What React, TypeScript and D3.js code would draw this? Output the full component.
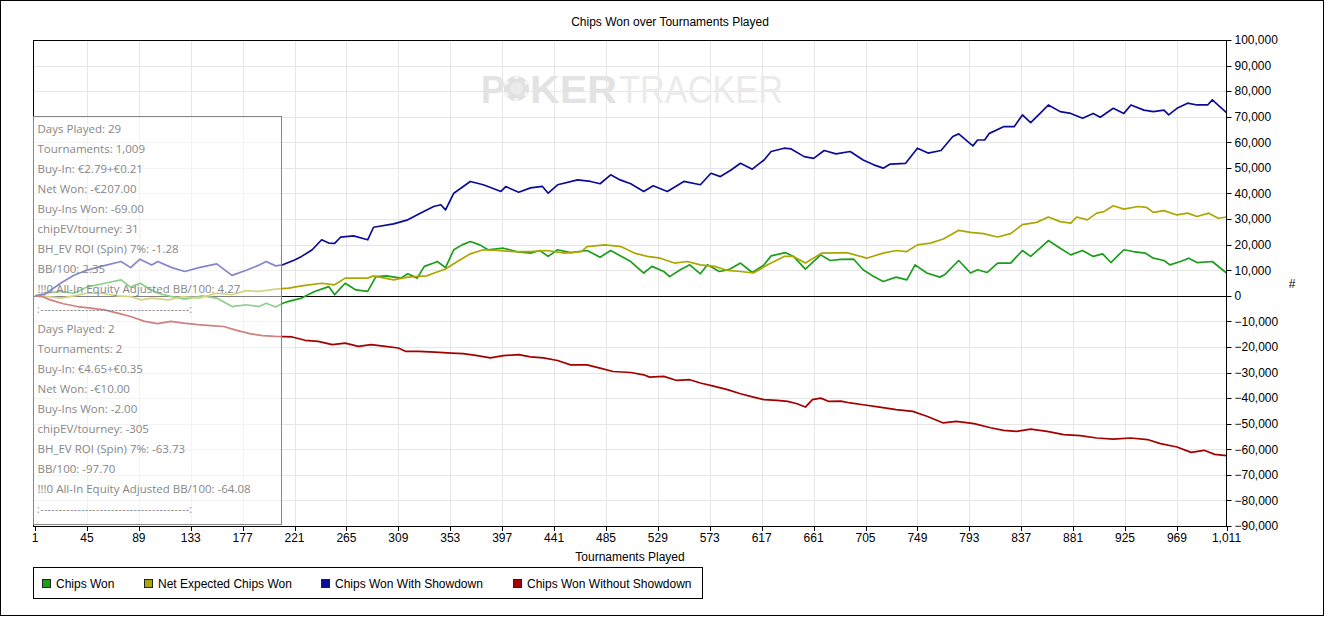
import React from 'react';
import * as d3 from 'd3';

// ---------- data ----------
const chartTitle = 'Chips Won over Tournaments Played';
const xAxisTitle = 'Tournaments Played';
const yAxisTitle = '#';

const tournamentTicks = [1, 45, 89, 133, 177, 221, 265, 309, 353, 397, 441, 485, 529, 573, 617, 661, 705, 749, 793, 837, 881, 925, 969, 1011];
const chipTicks = [100000, 90000, 80000, 70000, 60000, 50000, 40000, 30000, 20000, 10000, 0, -10000, -20000, -30000, -40000, -50000, -60000, -70000, -80000, -90000];

// [tournament, chips in thousands]
const chipsWon: [number, number][] = [
  [1, 0], [9, 1], [23, 1.7], [34, 1], [45, 3.4], [58, 4.7], [74, 6.2], [82, 3.4], [90, 4.9], [105, 1], [117, -0.3], [128, -1.3], [143, 0], [155, -0.9], [168, -4.2], [180, -3.5], [191, -4.2], [197, -2.9], [205, -4.4], [211, -2.9], [216, -2.2], [227, -0.9], [238, 1.7], [250, 3.6], [255, 0.4], [260, 3], [264, 4.9], [273, 2.3], [283, 1.7], [290, 7.5], [299, 7.8], [311, 6.9], [317, 8.6], [325, 6.9], [331, 11.5], [339, 12.8], [342, 13.4], [349, 11], [356, 18], [363, 19.9], [370, 21.2], [378, 19.9], [385, 18], [398, 18.6], [409, 17.3], [421, 16.7], [429, 17.7], [436, 15.4], [444, 18], [455, 16.9], [469, 17.7], [480, 15.1], [489, 17.7], [506, 13.4], [517, 8.9], [524, 11.5], [534, 9.5], [539, 7.5], [548, 10.2], [556, 12.1], [565, 8.6], [571, 12.1], [581, 9.5], [589, 10.2], [599, 12.8], [609, 9.1], [619, 12.1], [625, 15.6], [637, 16.9], [644, 15.4], [654, 10.4], [667, 16], [675, 13.8], [684, 14.2], [695, 14.3], [703, 10.2], [712, 7.5], [720, 5.6], [731, 7.3], [740, 6.2], [747, 12.1], [757, 8.9], [768, 7.3], [772, 8.2], [784, 13.8], [794, 8.9], [800, 10.2], [808, 9.1], [817, 12.8], [828, 12.8], [838, 17.7], [845, 15.4], [853, 18.6], [860, 21.6], [870, 18.6], [879, 16], [889, 17.7], [898, 15.4], [906, 16.4], [913, 13], [924, 18], [932, 17.3], [942, 16.7], [949, 14.7], [958, 13.8], [963, 12.1], [972, 13.4], [979, 14.7], [986, 13], [999, 13.4], [1011, 8.9],
];

const netExpectedChipsWon: [number, number][] = [
  [1, 0], [12, -0.3], [23, -0.9], [34, 0], [45, 1], [57, 1], [71, 0], [82, -0.3], [91, -1.6], [100, -0.9], [114, -1.6], [126, -0.3], [140, -0.9], [155, 1], [168, 0.4], [180, 2], [191, 1.7], [205, 2.6], [216, 3], [227, 3.9], [244, 4.9], [255, 4.3], [264, 6.9], [283, 6.9], [288, 7.8], [305, 6.2], [317, 7.3], [333, 7.8], [340, 9], [349, 10.5], [359, 13.4], [370, 16.4], [381, 18], [393, 17.7], [407, 17.3], [421, 17.3], [435, 17.7], [450, 16.7], [464, 17.3], [469, 19.2], [484, 19.9], [498, 19.2], [509, 16.7], [520, 15.4], [531, 14.7], [543, 12.8], [554, 13.4], [565, 12.1], [577, 11.5], [588, 9.9], [599, 9.5], [610, 8.9], [622, 12.1], [636, 15.4], [644, 15.4], [654, 12.8], [668, 16.7], [680, 16.8], [689, 16.9], [706, 14.7], [720, 16.7], [731, 17.7], [740, 17.3], [749, 19.9], [760, 20.6], [771, 22.2], [784, 25.6], [794, 24.8], [805, 24.3], [817, 23], [828, 24.3], [838, 27.8], [850, 28.7], [860, 30.8], [870, 29], [879, 28.4], [884, 30.8], [893, 29.7], [901, 32.3], [907, 32.9], [915, 35.2], [924, 33.9], [936, 34.9], [943, 34.6], [949, 32.6], [958, 33.3], [969, 31.6], [978, 32.3], [986, 31], [996, 32.3], [1004, 30.3], [1011, 30.8],
];

const chipsWonWithShowdown: [number, number][] = [
  [1, 0], [9, 0.5], [23, 5], [34, 8], [45, 10], [57, 11.5], [74, 13.4], [82, 11], [90, 14.3], [100, 12], [105, 13.4], [117, 11], [128, 9.5], [140, 11], [155, 12.5], [168, 8], [180, 10], [191, 12], [197, 13.4], [205, 11.7], [211, 12.1], [221, 14], [227, 15.4], [236, 18], [244, 21.9], [250, 20.6], [255, 20.5], [260, 22.9], [271, 23.4], [283, 21.9], [288, 26.8], [305, 28.1], [317, 29.7], [328, 32.4], [339, 34.9], [345, 35.6], [349, 33.6], [356, 40.1], [364, 42.7], [370, 44.7], [381, 43.4], [396, 40.8], [400, 42.7], [411, 40.5], [421, 42.2], [431, 42.8], [436, 40.1], [444, 43.4], [461, 45.3], [472, 44.7], [480, 43.8], [489, 47.3], [497, 45.3], [506, 43.8], [517, 40.8], [525, 43], [537, 40.8], [551, 44.7], [565, 43.4], [574, 47.9], [582, 46.6], [591, 49.2], [599, 51.8], [609, 49.5], [619, 53.1], [625, 56.4], [636, 57.7], [642, 57.4], [653, 54.4], [661, 53.7], [670, 56.8], [680, 55.5], [692, 56.4], [703, 53.1], [712, 51.2], [720, 49.9], [726, 51.5], [739, 51.8], [749, 57.7], [758, 55.8], [769, 56.8], [779, 62.3], [784, 63.3], [796, 58.6], [800, 60.9], [806, 60.9], [810, 63.5], [822, 66.1], [831, 66.1], [838, 70.7], [845, 67.7], [853, 71.3], [860, 74.6], [870, 72], [879, 71.3], [889, 69.4], [898, 71.3], [904, 69.8], [915, 73.3], [924, 71.3], [930, 74.6], [941, 72.6], [949, 72], [958, 72.6], [962, 70.7], [969, 73.3], [978, 75.3], [986, 74.6], [995, 74.6], [999, 76.6], [1011, 71.6],
];

const chipsWonWithoutShowdown: [number, number][] = [
  [1, 0], [7, -0.3], [14, -1.6], [25, -3.1], [37, -4.2], [48, -4.8], [60, -5.5], [71, -6.8], [82, -8.1], [94, -10], [105, -10.9], [116, -10], [127, -10.7], [139, -11.3], [150, -11.7], [161, -12], [172, -13.5], [183, -14.8], [194, -15.6], [205, -15.9], [219, -16.1], [230, -17.4], [241, -17.8], [253, -19.1], [264, -18.5], [275, -19.8], [286, -19.1], [298, -19.8], [309, -20.4], [315, -21.7], [326, -21.7], [340, -22], [354, -22.4], [364, -22.6], [376, -23.4], [387, -24.3], [398, -23.4], [411, -23], [421, -23.9], [432, -24.3], [444, -25.3], [455, -27], [469, -27], [480, -28.3], [491, -29.6], [506, -30], [517, -30.9], [522, -31.8], [534, -31.5], [545, -33.1], [556, -32.8], [565, -34.1], [577, -35.4], [588, -36.7], [599, -38.3], [610, -39.6], [619, -40.6], [630, -40.9], [639, -41.3], [647, -42.2], [654, -43.5], [660, -40.6], [667, -40], [674, -41.3], [684, -41.2], [692, -41.9], [703, -42.6], [717, -43.5], [731, -44.5], [745, -45.2], [757, -47.1], [771, -49.7], [782, -49.1], [797, -50], [811, -51.6], [822, -52.6], [833, -53], [845, -52.1], [859, -53], [873, -54.3], [887, -54.7], [901, -55.6], [915, -56], [930, -55.6], [944, -56.2], [955, -57.8], [969, -59.1], [981, -61.2], [992, -60.4], [1001, -62], [1011, -62.5],
];

const seriesNames = ['Chips Won', 'Net Expected Chips Won', 'Chips Won With Showdown', 'Chips Won Without Showdown'];
const seriesColors = ['#1c9e1c', '#aca600', '#0c0c98', '#a30000'];
const seriesData = [chipsWon, netExpectedChipsWon, chipsWonWithShowdown, chipsWonWithoutShowdown];

const statsBlockA = [
  'Days Played: 29',
  'Tournaments: 1,009',
  'Buy-In: €2.79+€0.21',
  'Net Won: -€207.00',
  'Buy-Ins Won: -69.00',
  'chipEV/tourney: 31',
  'BH_EV ROI (Spin) 7%: -1.28',
  'BB/100: 2.35',
  '!!!0 All-In Equity Adjusted BB/100: 4.27',
];
const statsBlockB = [
  'Days Played: 2',
  'Tournaments: 2',
  'Buy-In: €4.65+€0.35',
  'Net Won: -€10.00',
  'Buy-Ins Won: -2.00',
  'chipEV/tourney: -305',
  'BH_EV ROI (Spin) 7%: -63.73',
  'BB/100: -97.70',
  '!!!0 All-In Equity Adjusted BB/100: -64.08',
];

// ---------- layout ----------
const W = 1325;
const H = 617;
const P = { left: 33, right: 1226.5, top: 40, bottom: 526 };
const axisFont = '"Liberation Sans", Arial, sans-serif';
const statsFont = '"Open Sans", "Noto Sans", sans-serif';
const legendX = [42, 144, 321, 513];

export default function App() {
  const x = d3.scaleLinear().domain([1, 1011]).range([35, P.right]);
  const y = d3.scaleLinear().domain([-90000, 100000]).range([P.bottom, P.top]);
  const fmt = d3.format(',');
  const line = d3
    .line<[number, number]>()
    .x((d) => x(d[0]))
    .y((d) => y(d[1] * 1000));

  const sep = ':' + '-'.repeat(40) + ':';

  const statsBlock = (lines: string[], startY: number, sepY: number, key: string) => (
    <g key={key} fontFamily={statsFont} fontSize={11.5} fill="#878787">
      {lines.map((t, i) => (
        <text key={i} x={37.5} y={startY + i * 20}>
          {t}
        </text>
      ))}
      <text x={37} y={sepY} textLength={155} lengthAdjust="spacing" fontSize={10}>
        {sep}
      </text>
    </g>
  );

  return (
    <svg
      width={W}
      height={H}
      style={{ position: 'absolute', left: 0, top: 0, background: '#fff' }}
      shapeRendering="auto"
    >
      <defs>
        <clipPath id="plotClip">
          <rect x={P.left} y={P.top} width={P.right - P.left} height={P.bottom - P.top} />
        </clipPath>
      </defs>
      <rect x={0.5} y={0.5} width={W - 2} height={H - 2} fill="#fff" stroke="#000" strokeWidth={1} />

      {/* title */}
      <text x={670} y={26} textAnchor="middle" fontFamily={axisFont} fontSize={12} fill="#000">
        {chartTitle}
      </text>

      {/* grid */}
      <g stroke="#e6e6e6" strokeWidth={1}>
        {tournamentTicks.slice(1, -1).map((t) => (
          <line key={'gx' + t} x1={Math.round(x(t)) + 0.5} x2={Math.round(x(t)) + 0.5} y1={P.top} y2={P.bottom} />
        ))}
        {chipTicks
          .filter((v) => v !== 0 && v !== 100000 && v !== -90000)
          .map((v) => (
            <line key={'gy' + v} x1={P.left} x2={P.right} y1={Math.round(y(v)) + 0.5} y2={Math.round(y(v)) + 0.5} />
          ))}
      </g>

      {/* watermark */}
      <g fill="#e3e3e3">
        <text x={481} y={103} fontFamily={axisFont} fontWeight="bold" fontSize={39} textLength={24} lengthAdjust="spacingAndGlyphs">
          P
        </text>
        <circle cx={516.5} cy={88.5} r={12.5} fill="#e1e1e1" />
        {[0, 60, 120, 180, 240, 300].map((a) => (
          <rect
            key={a}
            x={514.5}
            y={75}
            width={4}
            height={4}
            fill="#f4f4f4"
            transform={`rotate(${a} 516.5 88.5)`}
          />
        ))}
        <circle cx={516.5} cy={88.5} r={6.5} fill="#ebebeb" />
        <text x={530} y={103} fontFamily={axisFont} fontWeight="bold" fontSize={39} textLength={87} lengthAdjust="spacingAndGlyphs">
          KER
        </text>
        <text x={619} y={103} fontFamily={axisFont} fontSize={39} fill="#ebebeb" textLength={164} lengthAdjust="spacingAndGlyphs">
          TRACKER
        </text>
      </g>

      {/* zero line */}
      <line x1={P.left} x2={P.right} y1={Math.round(y(0)) + 0.5} y2={Math.round(y(0)) + 0.5} stroke="#000" strokeWidth={1} />

      {/* series */}
      <g clipPath="url(#plotClip)" fill="none" strokeWidth={1.7} strokeLinejoin="round">
        {seriesData.map((d, i) => (
          <path key={i} d={line(d) || ''} stroke={seriesColors[i]} />
        ))}
      </g>

      {/* frame */}
      <g stroke="#000" strokeWidth={1} fill="none">
        <line x1={P.left} x2={P.right} y1={P.top + 0.5} y2={P.top + 0.5} />
        <line x1={P.left + 0.5} x2={P.left + 0.5} y1={P.top} y2={P.bottom} />
        <line x1={P.left} x2={P.right + 0.5} y1={P.bottom + 0.5} y2={P.bottom + 0.5} />
        <line x1={P.right} x2={P.right} y1={P.top} y2={P.bottom + 1} />
      </g>

      {/* stats overlay */}
      <rect x={33.5} y={116.5} width={248} height={408} fill="#ffffff" fillOpacity={0.5} stroke="#858585" strokeWidth={1} />
      {statsBlock(statsBlockA, 133, 313, 'a')}
      {statsBlock(statsBlockB, 333, 513, 'b')}

      {/* y axis (right) */}
      <g fontFamily={axisFont} fontSize={12} fill="#000">
        {chipTicks.map((v) => (
          <g key={'yt' + v}>
            <line x1={P.right} x2={P.right + 5} y1={Math.round(y(v)) + 0.5} y2={Math.round(y(v)) + 0.5} stroke="#000" />
            <text x={P.right + 8} y={y(v)} dy="0.36em">
              {fmt(v)}
            </text>
          </g>
        ))}
        <text x={1292} y={288} textAnchor="middle">
          {yAxisTitle}
        </text>
      </g>

      {/* x axis */}
      <g fontFamily={axisFont} fontSize={12} fill="#000">
        {tournamentTicks.map((t) => (
          <g key={'xt' + t}>
            <line x1={Math.round(x(t)) + 0.5} x2={Math.round(x(t)) + 0.5} y1={P.bottom} y2={P.bottom + 5} stroke="#000" />
            <text x={x(t)} y={542} textAnchor="middle">
              {fmt(t)}
            </text>
          </g>
        ))}
        <text x={630} y={561} textAnchor="middle">
          {xAxisTitle}
        </text>
      </g>

      {/* legend */}
      <rect x={33.5} y={567.5} width={669} height={31} fill="#fff" stroke="#000" strokeWidth={1} />
      <g fontFamily={axisFont} fontSize={12} fill="#000">
        {seriesNames.map((n, i) => (
          <g key={n}>
            <rect x={legendX[i] + 0.5} y={579.5} width={8} height={8} fill={seriesColors[i]} stroke="#222" strokeWidth={1} />
            <text x={legendX[i] + 14} y={587.5}>
              {n}
            </text>
          </g>
        ))}
      </g>
    </svg>
  );
}
